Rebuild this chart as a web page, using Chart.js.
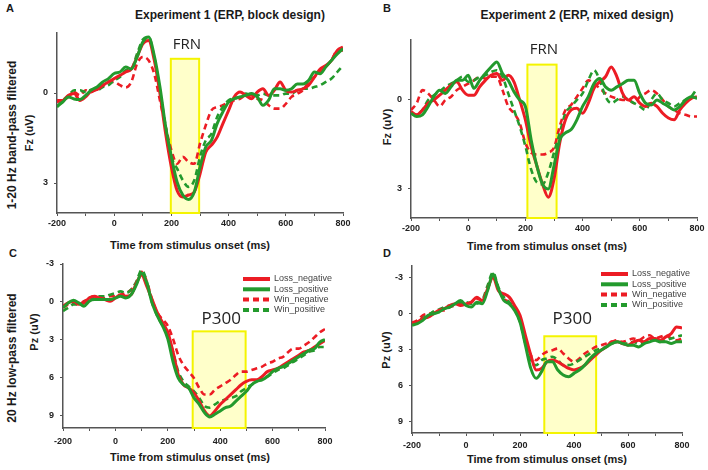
<!DOCTYPE html>
<html>
<head>
<meta charset="utf-8">
<script src="https://cdn.jsdelivr.net/npm/chart.js@4.4.1/dist/chart.umd.min.js"></script>
<style>
body { margin: 0; width: 708px; height: 470px; position: relative; overflow: hidden; background: #fff; font-family: "Liberation Sans", Arial, sans-serif; }
canvas { position: absolute; }
.lbl { position: absolute; font-weight: bold; color: #1a1a1a; white-space: nowrap; transform: translate(-50%, -50%); }
.rot { transform: translate(-50%, -50%) rotate(-90deg); }
</style>
</head>
<body>
<div class="lbl" style="left:10px;top:8px;font-size:11px">A</div>
<div class="lbl" style="left:387px;top:8px;font-size:11px">B</div>
<div class="lbl" style="left:13px;top:253px;font-size:11px">C</div>
<div class="lbl" style="left:387px;top:253px;font-size:11px">D</div>
<div class="lbl" style="left:230px;top:15px;font-size:12px">Experiment 1 (ERP, block design)</div>
<div class="lbl" style="left:577px;top:15px;font-size:12px">Experiment 2 (ERP, mixed design)</div>
<div class="lbl rot" style="left:12px;top:135px;font-size:12px">1-20 Hz band-pass filtered</div>
<div class="lbl rot" style="left:29px;top:133px;font-size:11px">Fz (uV)</div>
<div class="lbl rot" style="left:387px;top:127px;font-size:11px">Fz (uV)</div>
<div class="lbl rot" style="left:12px;top:358px;font-size:12px">20 Hz low-pass filtered</div>
<div class="lbl rot" style="left:34px;top:332px;font-size:11px">Pz (uV)</div>
<div class="lbl rot" style="left:386px;top:350px;font-size:11px">Pz (uV)</div>
<div class="lbl" style="left:190px;top:245px;font-size:11px">Time from stimulus onset (ms)</div>
<div class="lbl" style="left:547px;top:246px;font-size:11px">Time from stimulus onset (ms)</div>
<div class="lbl" style="left:190px;top:457px;font-size:11px">Time from stimulus onset (ms)</div>
<div class="lbl" style="left:547px;top:459px;font-size:11px">Time from stimulus onset (ms)</div>
<canvas id="chartA"></canvas>
<canvas id="chartB"></canvas>
<canvas id="chartC"></canvas>
<canvas id="chartD"></canvas>
<script>
// time points (ms)
const times = [-200, -180, -160, -140, -120, -100, -80, -60, -40, -20, 0, 20, 40, 60, 80, 100, 120, 140, 160, 180, 200,
    220, 240, 260, 280, 300, 320, 340, 360, 380, 400, 420, 440, 460, 480, 500, 520, 540, 560, 580, 600,
    620, 640, 660, 680, 700, 720, 740, 760, 780, 800];
const xTicks = [-200, -100, 0, 100, 200, 300, 400, 500, 600, 700, 800];
const yTicksFz = [0, 3];
const yTicksPz = [-3, 0, 3, 6, 9];
const seriesNames = ['Loss_negative', 'Loss_positive', 'Win_negative', 'Win_positive'];

// A: Fz, block design
const aLossNeg = [0.25, 0.25, 0.08, 0.02, 0.25, 0.13, -0.07, -0.11, -0.26, -0.37, -0.48,
    -0.59, -0.7, -0.8, -1.2, -1.64, -1.75, -1.1, 0.02, 1.36, 2.47,
    3.25, 3.47, 3.4, 3.3, 2.7, 1.97, 1.74, 1.47, 1.02, 0.58,
    0.13, -0.03, 0.08, 0.19, -0.03, -0.14, 0.08, -0.09, -0.37, -0.09,
    -0.03, -0.09, -0.14, -0.26, -0.53, -0.8, -0.92, -1.09, -1.42, -1.53];
const aLossPos = [0.45, 0.3, 0.13, 0.2, 0.22, 0.08, -0.1, -0.2, -0.37, -0.48, -0.65,
    -0.7, -0.87, -0.8, -1.2, -1.7, -1.87, -1.25, -0.2, 1.13, 2.13,
    2.97, 3.4, 3.55, 3.3, 2.47, 1.8, 1.58, 1.02, 0.63, 0.3,
    0.19, 0.13, 0.08, 0.02, 0.13, 0.41, 0.24, -0.14, -0.14, -0.09,
    -0.14, -0.3, -0.3, -0.42, -0.7, -0.64, -0.87, -1.09, -1.3, -1.48];
const aWinNeg = [0.3, 0.25, 0.13, -0.03, 0.08, -0.09, -0.03, -0.14, -0.22, -0.37, -0.37,
    -0.26, -0.18, -0.37, -0.98, -1.2, -1.09, -0.64, 0.25, 1.13, 1.91,
    2.36, 2.13, 2.3, 2.36, 1.69, 1.08, 0.58, 0.47, 0.41, 0.3,
    0.24, 0.19, 0.08, 0.08, 0.19, 0.24, 0.41, 0.52, 0.52, 0.36,
    0.13, 0.02, -0.09, -0.37, -0.53, -0.7, -0.87, -1.09, -1.42, -1.42];
const aWinPos = [0.47, 0.25, 0.08, -0.09, -0.09, -0.03, -0.11, -0.09, -0.2, -0.26, -0.42,
    -0.53, -0.76, -0.8, -1.31, -1.78, -1.87, -1.2, -0.09, 1.13, 2.13,
    2.52, 2.91, 3.13, 2.91, 2.13, 1.58, 1.36, 0.8, 0.47, 0.24,
    0.19, 0.13, 0.02, 0.08, 0.08, 0.02, 0.08, 0.08, 0.08, 0.02,
    0.02, -0.09, -0.14, -0.14, -0.2, -0.26, -0.37, -0.48, -0.7, -0.92];

// B: Fz, mixed design
const bLossNeg = [0.41, 0.52, 0.36, 0.13, 0.02, -0.14, -0.31, -0.48, -0.59, -0.31, -0.14,
    -0.14, -0.42, -0.64, -0.81, -0.87, -0.64, -0.81, -0.59, 0.02, 0.69,
    1.58, 2.24, 2.86, 3.3, 2.69, 1.47, 0.69, 0.36, 0.3, 0.47,
    0.13, -0.37, -0.59, -0.76, -1.09, -0.76, -0.2, 0.02, -0.09, 0.13,
    0.24, 0.13, 0.24, 0.47, 0.63, 0.69, 0.36, 0.13, -0.03, -0.09];
const bLossPos = [0.47, 0.58, 0.52, 0.24, -0.09, -0.31, -0.2, -0.42, -0.64, -0.64, -0.81,
    -0.37, -0.64, -0.87, -1.09, -1.26, -0.87, -0.64, -0.26, 0.02, 0.24,
    1.36, 2.24, 2.86, 3.02, 2.24, 1.36, 1.13, 1.02, 0.69, 0.24,
    -0.09, -0.53, -0.7, -0.42, -0.31, -0.42, -0.53, -0.64, -0.64, -0.2,
    0.13, 0.19, 0.02, 0.13, 0.24, 0.36, 0.24, 0.02, -0.09, -0.03];
const bWinNeg = [0.36, 0.13, -0.31, -0.2, 0.02, 0.24, 0.02, -0.09, -0.31, -0.42, -0.53,
    -0.64, -0.76, -0.7, -0.76, -0.76, -0.31, 0.24, 0.47, 0.8, 1.47,
    1.8, 1.86, 1.86, 1.8, 1.63, 0.91, 0.36, 0.19, -0.09, -0.37,
    -0.64, -0.53, -0.37, -0.2, -0.09, -0.03, 0.02, 0.02, 0.13, -0.09,
    -0.2, -0.31, -0.2, 0.02, 0.24, 0.36, 0.47, 0.52, 0.58, 0.58];
const bWinPos = [0.47, 0.52, 0.36, 0.02, -0.14, -0.26, -0.42, -0.53, -0.64, -0.76, -0.59,
    -0.64, -0.76, -0.81, -0.92, -0.98, -0.76, -0.2, 0.36, 0.91, 1.58,
    2.36, 2.8, 2.86, 2.47, 1.8, 1.13, 0.47, 0.24, 0.02, -0.2,
    -0.64, -0.98, -0.64, -0.09, 0.13, 0.02, -0.09, 0.02, 0.13, 0.24,
    0.36, 0.02, -0.2, 0.02, 0.13, 0.24, 0.13, 0.02, -0.09, -0.37];

// C: Pz, block design
const cLossNeg = [0.34, 0.08, -0.05, 0.2, 0.08, -0.31, -0.44, -0.31, -0.18, -0.05, -0.31,
    -0.57, -0.44, -0.57, -1.48, -2.13, -1.22, -0.18, 0.86, 1.64, 2.42,
    3.97, 5.79, 6.57, 6.83, 7.22, 7.87, 8.65, 9.04, 8.65, 8.13,
    7.74, 7.35, 6.96, 6.57, 6.31, 6.18, 6.18, 5.92, 5.53, 5.4,
    5.27, 5.01, 4.75, 4.49, 4.23, 3.97, 3.84, 3.58, 3.32, 3.06];
const cLossPos = [0.47, 0.08, -0.13, 0.08, 0.34, -0.05, -0.18, -0.18, -0.18, -0.18, -0.31,
    -0.44, -0.31, -0.57, -1.35, -2.26, -1.48, 0.08, 1.12, 1.9, 2.94,
    4.75, 6.05, 6.57, 6.83, 7.61, 8.13, 8.78, 9.12, 8.91, 8.65,
    8.39, 8.26, 7.87, 7.48, 7.09, 6.57, 6.31, 6.18, 5.92, 5.53,
    5.27, 5.14, 4.88, 4.62, 4.36, 4.1, 3.84, 3.71, 3.19, 2.99];
const cWinNeg = [0.47, 0.2, 0.08, 0.2, -0.05, -0.31, -0.44, -0.31, -0.31, -0.44, -0.44,
    -0.57, -0.7, -0.96, -1.48, -2.39, -1.61, -0.18, 0.86, 1.38, 1.9,
    2.94, 4.23, 5.01, 5.53, 6.05, 6.83, 7.35, 7.35, 6.96, 6.7,
    6.44, 6.18, 5.79, 5.53, 5.53, 5.4, 5.27, 5.14, 4.88, 4.75,
    4.49, 4.36, 3.97, 3.71, 3.71, 3.45, 3.19, 2.81, 2.42, 2.16];
const cWinPos = [0.73, 0.47, 0.2, 0.2, 0.08, -0.31, -0.31, -0.44, -0.44, -0.57, -0.7,
    -0.83, -0.7, -0.96, -1.61, -2.52, -1.61, 0.08, 1.12, 1.9, 2.68,
    3.97, 5.53, 6.31, 6.7, 7.09, 7.61, 8.26, 8.39, 8.13, 7.87,
    7.74, 7.61, 7.48, 7.09, 6.83, 6.57, 6.31, 6.05, 5.92, 5.66,
    5.4, 5.27, 5.01, 4.75, 4.49, 4.23, 3.97, 3.84, 3.58, 3.58];

// D: Pz, mixed design
const dLossNeg = [0.83, 0.69, 0.42, 0.28, 0, -0.28, -0.42, -0.69, -0.83, -0.69, -0.83,
    -0.97, -1.39, -1.11, -2.08, -3.06, -1.94, -1.67, -1.39, -0.69, 0.14,
    1.81, 3.47, 4.72, 4.58, 4.03, 3.89, 4.03, 4.31, 4.58, 4.72,
    4.58, 4.31, 3.89, 3.47, 3.06, 2.78, 2.36, 2.36, 2.5, 2.64,
    2.36, 2.22, 2.36, 2.08, 2.08, 2.22, 1.94, 1.67, 1.11, 1.19];
const dLossPos = [0.97, 0.83, 0.56, 0.14, 0, -0.14, -0.42, -0.56, -0.83, -1.11, -0.69,
    -0.56, -0.97, -0.83, -1.94, -3.33, -2.08, -1.11, -0.83, -0.28, 0.69,
    2.64, 4.58, 5.42, 4.86, 4.03, 4.03, 4.72, 5.14, 5.28, 5,
    4.72, 4.31, 3.75, 3.33, 3.06, 2.78, 2.5, 2.36, 2.5, 2.64,
    2.64, 2.78, 2.5, 2.36, 2.22, 2.36, 2.36, 2.5, 2.36, 2.36];
const dWinNeg = [0.75, 0.56, 0.14, 0, -0.08, -0.28, -0.28, -0.56, -0.69, -0.83, -0.83,
    -0.97, -1.25, -1.11, -2.08, -3.19, -2.08, -1.25, -0.97, -0.42, 0.42,
    2.08, 3.47, 3.89, 3.47, 3.19, 3.06, 2.92, 3.33, 3.75, 4.03,
    3.75, 3.33, 3.06, 2.78, 2.64, 2.5, 2.36, 2.22, 2.36, 2.22,
    2.08, 2.22, 1.94, 1.81, 2.08, 1.94, 1.81, 2.08, 2.22, 2.08];
const dWinPos = [0.92, 0.69, 0.36, 0.14, -0.19, -0.36, -0.56, -0.69, -0.83, -0.97, -0.97,
    -0.83, -0.83, -1.11, -2.36, -3.47, -2.22, -1.39, -0.97, -0.42, 0.69,
    2.5, 4.03, 4.31, 3.89, 3.75, 3.61, 3.89, 4.31, 4.31, 4.17,
    3.89, 3.61, 3.33, 3.06, 2.92, 2.78, 2.5, 2.36, 2.5, 2.5,
    2.36, 2.5, 2.36, 2.08, 2.22, 2.36, 2.22, 2.08, 1.94, 1.81];

const RED = '#ec1c24';
const GREEN = '#239a2d';
const PAD_L = 45, PAD_T = 14, PAD_R = 16, PAD_B = 26;
const tickFont = { family: '"Liberation Sans", Arial, sans-serif', size: 9, weight: 'bold' };

const panels = [
    { id: 'chartA', area: { l: 57, r: 343, t: 33, b: 213 }, yMin: -2, yMax: 4, yTicks: yTicksFz,
      series: [aLossNeg, aLossPos, aWinNeg, aWinPos], win: { from: 198, to: 297, top: -1.14, label: 'FRN', size: 15, gap: 10 }, tickPad: 2 },
    { id: 'chartB', area: { l: 411, r: 697, t: 40, b: 218 }, yMin: -2, yMax: 4, yTicks: yTicksFz,
      series: [bLossNeg, bLossPos, bWinNeg, bWinPos], win: { from: 207, to: 309, top: -1.17, label: 'FRN', size: 15, gap: 11 }, tickPad: 2 },
    { id: 'chartC', area: { l: 63, r: 325, t: 264, b: 428 }, yMin: -3, yMax: 10, yTicks: yTicksPz,
      series: [cLossNeg, cLossPos, cWinNeg, cWinPos], win: { from: 295, to: 497, top: 2.34, label: 'P300', size: 17, gap: 7 }, tickPad: 5,
      key: { dx: 180, dy: 15 } },
    { id: 'chartD', area: { l: 412, r: 682, t: 266, b: 433 }, yMin: -4, yMax: 10, yTicks: yTicksPz,
      series: [dLossNeg, dLossPos, dWinNeg, dWinPos], win: { from: 290, to: 482, top: 1.89, label: 'P300', size: 17, gap: 12 }, tickPad: 4,
      key: { dx: 189, dy: 8 } }
];

// yellow analysis window + its label, drawn under the waveforms
const windowPlugin = {
    id: 'window',
    beforeDatasetsDraw(chart, args, opts) {
        const { ctx, scales: { x, y } } = chart;
        const left = x.getPixelForValue(opts.from);
        const right = x.getPixelForValue(opts.to);
        const top = y.getPixelForValue(opts.top);
        const bottom = y.getPixelForValue(y.max);
        ctx.save();
        ctx.fillStyle = 'rgba(255, 255, 150, 0.5)';
        ctx.fillRect(left, top, right - left, bottom - top);
        ctx.strokeStyle = '#f4f400';
        ctx.lineWidth = 2;
        ctx.strokeRect(left, top, right - left, bottom - top);
        ctx.fillStyle = '#222';
        ctx.font = `${opts.size}px "Open Sans", sans-serif`;
        ctx.textAlign = 'center';
        ctx.textBaseline = 'alphabetic';
        ctx.fillText(opts.label, (left + right) / 2 + 2, top - opts.gap);
        ctx.restore();
    }
};

// small key in the upper right of the lower panels
const keyPlugin = {
    id: 'seriesKey',
    afterDatasetsDraw(chart, args, opts) {
        if (!opts.show) return;
        const { ctx, chartArea } = chart;
        ctx.save();
        ctx.font = '9px "Liberation Sans", Arial, sans-serif';
        ctx.textBaseline = 'middle';
        chart.data.datasets.forEach((ds, i) => {
            const x0 = chartArea.left + opts.dx;
            const y0 = chartArea.top + opts.dy + i * 10.3;
            ctx.strokeStyle = ds.borderColor;
            ctx.lineWidth = 4;
            ctx.setLineDash(ds.borderDash || []);
            ctx.beginPath();
            ctx.moveTo(x0, y0);
            ctx.lineTo(x0 + 27, y0);
            ctx.stroke();
            ctx.fillStyle = '#444';
            ctx.fillText(ds.label, x0 + 31, y0);
        });
        ctx.restore();
    }
};

function buildDatasets(series) {
    const drawOrder = [1, 0, 3, 2];
    return series.map((vals, i) => ({
        label: seriesNames[i],
        data: times.map((t, j) => ({ x: t, y: vals[j] })),
        borderColor: i % 2 === 0 ? RED : GREEN,
        borderWidth: i < 2 ? 3 : 2.6,
        borderDash: i < 2 ? [] : [6, 4],
        pointRadius: 0,
        cubicInterpolationMode: 'monotone',
        fill: false,
        order: drawOrder[i]
    }));
}

function makePanel(p) {
    const canvas = document.getElementById(p.id);
    const w = p.area.r - p.area.l + PAD_L + PAD_R;
    const h = p.area.b - p.area.t + PAD_T + PAD_B;
    canvas.width = w;
    canvas.height = h;
    canvas.style.left = (p.area.l - PAD_L) + 'px';
    canvas.style.top = (p.area.t - PAD_T) + 'px';
    canvas.style.width = w + 'px';
    canvas.style.height = h + 'px';

    new Chart(canvas, {
        type: 'line',
        data: { datasets: buildDatasets(p.series) },
        options: {
            responsive: false,
            animation: false,
            devicePixelRatio: 1,
            layout: { padding: { top: PAD_T, right: PAD_R, left: 0, bottom: 0 } },
            plugins: {
                legend: { display: false },
                tooltip: { enabled: false },
                window: p.win,
                seriesKey: p.key ? { show: true, dx: p.key.dx, dy: p.key.dy } : { show: false }
            },
            scales: {
                x: {
                    type: 'linear', min: -200, max: 800,
                    afterBuildTicks: s => { s.ticks = xTicks.map(v => ({ value: v })); },
                    afterFit: s => { s.height = PAD_B; },
                    ticks: { callback: v => (v % 200 === 0 ? v : ''), font: tickFont, color: '#222', padding: p.tickPad, maxRotation: 0, autoSkip: false },
                    grid: { drawOnChartArea: false, tickLength: 3, color: '#555' },
                    border: { color: '#555', width: 1.5 }
                },
                y: {
                    type: 'linear', min: p.yMin, max: p.yMax, reverse: true,
                    afterBuildTicks: s => { s.ticks = p.yTicks.map(v => ({ value: v })); },
                    afterFit: s => { s.width = PAD_L; },
                    ticks: { font: tickFont, color: '#222', padding: 6 },
                    grid: { drawOnChartArea: false, tickLength: 3, color: '#555' },
                    border: { color: '#555', width: 1.5 }
                }
            }
        },
        plugins: [windowPlugin, keyPlugin]
    });
}

panels.forEach(makePanel);
</script>
</body>
</html>
